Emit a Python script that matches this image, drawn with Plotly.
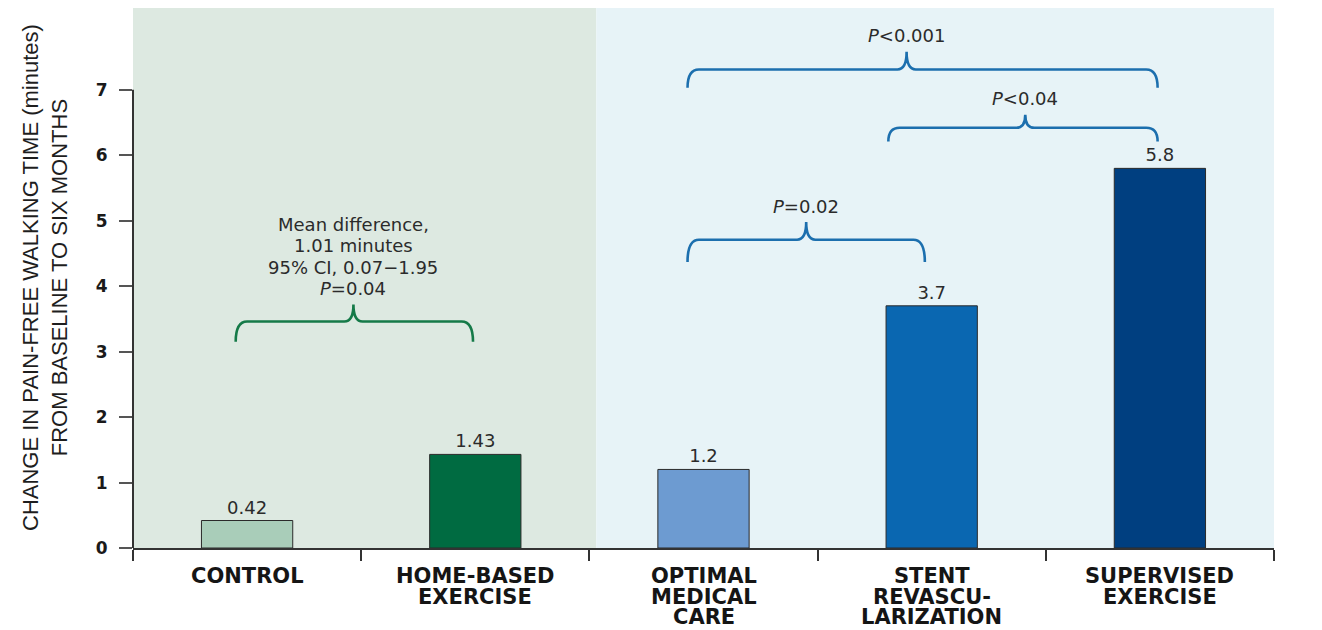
import plotly.graph_objects as go

categories = [["CONTROL"], ["HOME-BASED", "EXERCISE"], ["OPTIMAL", "MEDICAL", "CARE"],
              ["STENT", "REVASCU-", "LARIZATION"], ["SUPERVISED", "EXERCISE"]]
values = [0.42, 1.43, 1.2, 3.7, 5.8]
bar_colors = ["#a9cdb9", "#006b41", "#6d9bd1", "#0a67b1", "#003f80"]
y_ticks = [0, 1, 2, 3, 4, 5, 6, 7]

# significance brackets (data coordinates of braces)
brackets = [
    dict(x0=-0.05, x1=0.99, yb=3.46, ye=3.15, yt=3.72, xt=0.466, color="#157a48"),
    dict(x0=1.93, x1=2.97, yb=4.71, ye=4.37, yt=4.98, xt=2.45, color="#1c6fae"),
    dict(x0=2.81, x1=3.99, yb=6.42, ye=6.21, yt=6.62, xt=3.41, color="#1c6fae"),
    dict(x0=1.93, x1=3.99, yb=7.31, ye=7.03, yt=7.58, xt=2.89, color="#1c6fae"),
]
bracket_labels = [
    ["Mean difference,", "1.01 minutes", "95% CI, 0.07\u22121.95", "<i>P</i>=0.04"],
    ["<i>P</i>=0.02"],
    ["<i>P</i>&lt;0.04"],
    ["<i>P</i>&lt;0.001"],
]

FONT = "DejaVu Sans, Liberation Sans, sans-serif"
TXT = "#2b2b2b"

fig = go.Figure()
fig.add_trace(go.Bar(
    x=list(range(len(values))), y=values, width=0.4,
    marker=dict(color=bar_colors, line=dict(color="#2a2a2a", width=1)),
    text=[f"{v:g}" for v in values], textposition="outside",
    textfont=dict(size=18, color=TXT, family=FONT),
    cliponaxis=False, hoverinfo="skip",
))

shapes = []
shapes.append(dict(type="rect", xref="x", yref="paper", x0=-0.5, x1=1.53, y0=0, y1=1,
                   fillcolor="#dde9e1", line=dict(width=0), layer="below"))
shapes.append(dict(type="rect", xref="x", yref="paper", x0=1.53, x1=4.53, y0=0, y1=1,
                   fillcolor="#e7f3f7", line=dict(width=0), layer="below"))
shapes.append(dict(type="line", xref="paper", yref="y", x0=0, x1=0, y0=0, y1=7,
                   line=dict(color="#333", width=2)))

for b in brackets:
    dx = 0.05
    dt = 0.04
    p = (f"M {b['x0']},{b['ye']} Q {b['x0']},{b['yb']} {b['x0']+dx},{b['yb']} "
         f"L {b['xt']-dt},{b['yb']} Q {b['xt']},{b['yb']} {b['xt']},{b['yt']} "
         f"Q {b['xt']},{b['yb']} {b['xt']+dt},{b['yb']} "
         f"L {b['x1']-dx},{b['yb']} Q {b['x1']},{b['yb']} {b['x1']},{b['ye']}")
    shapes.append(dict(type="path", xref="x", yref="y", path=p,
                       line=dict(color=b["color"], width=2.6)))

annotations = []
for b, lines in zip(brackets, bracket_labels):
    n = len(lines)
    for k, line in enumerate(lines):
        annotations.append(dict(x=b["xt"], y=b["yt"], xref="x", yref="y",
                                text=line, showarrow=False, yanchor="middle",
                                yshift=16 + 21.3 * (n - 1 - k), borderpad=0,
                                font=dict(size=18, color=TXT, family=FONT)))

# category labels (one annotation per line for tight line spacing)
for i, lines in enumerate(categories):
    for k, line in enumerate(lines):
        annotations.append(dict(x=i, y=0, xref="x", yref="paper", text=f"<b>{line}</b>",
                                showarrow=False, yanchor="middle", yshift=-28 - 20.5 * k,
                                borderpad=0,
                                font=dict(size=21, color="#151515", family=FONT)))

annotations.append(dict(
    x=0, y=0.5, xref="paper", yref="paper", xshift=-88, textangle=-90, showarrow=False,
    xanchor="center", yanchor="middle",
    text="CHANGE IN PAIN-FREE WALKING TIME (minutes)<br>FROM BASELINE TO SIX MONTHS",
    font=dict(size=22, color="#1e1e1e", family="Liberation Sans, Arial, sans-serif"),
))

fig.update_layout(
    width=1314, height=622,
    margin=dict(l=125, r=48, t=0, b=82),
    paper_bgcolor="white", plot_bgcolor="white",
    showlegend=False,
    shapes=shapes, annotations=annotations,
    font=dict(family=FONT),
    xaxis=dict(range=[-0.5, 4.5], tickvals=list(range(len(categories))),
               showticklabels=False, ticks="", showgrid=False, zeroline=False,
               showline=True, linecolor="#333", linewidth=2,
               minor=dict(tickvals=[-0.5, 0.5, 1.5, 2.5, 3.5, 4.5], ticks="outside",
                          ticklen=11, tickcolor="#333", tickwidth=1.5, showgrid=False)),
    yaxis=dict(range=[0, 8.25], tickvals=y_ticks,
               ticktext=[f"<b>{t}</b>" for t in y_ticks],
               ticks="outside", ticklen=13, tickcolor="#555", tickwidth=1.5,
               ticklabelstandoff=8,
               showgrid=False, zeroline=False, showline=False,
               tickfont=dict(size=17, color="#1a1a1a", family=FONT)),
)

fig.write_html("out.html")
